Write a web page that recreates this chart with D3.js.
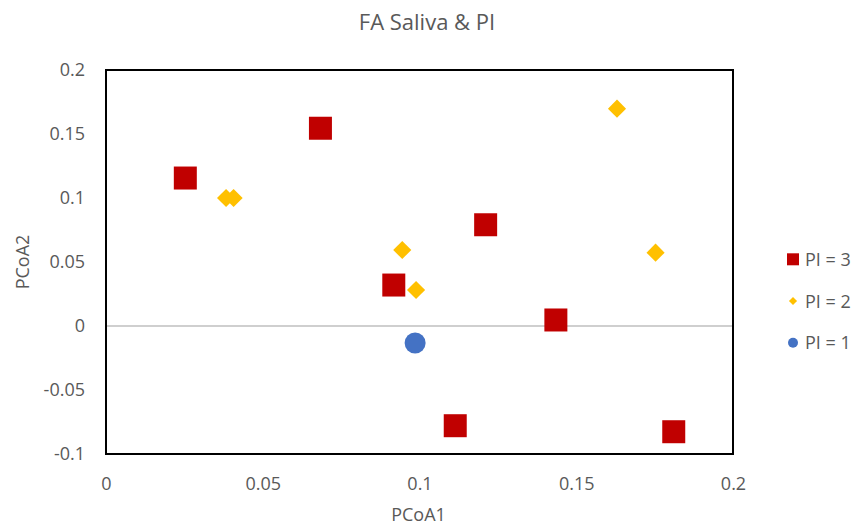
<!DOCTYPE html>
<html>
<head>
<meta charset="utf-8">
<script src="https://cdn.jsdelivr.net/npm/d3@7"></script>
<style>
  body { margin: 0; background: #fff; }
  text { font-family: "Open Sans", sans-serif; fill: #595959; }
</style>
</head>
<body>
<div id="container"></div>
<script>
// data
const pi3X = [0.0253, 0.0684, 0.1211, 0.0918, 0.1435, 0.1114, 0.1811];
const pi3Y = [0.1156, 0.1545, 0.0791, 0.032, 0.0047, -0.0779, -0.0826];
const pi2X = [0.163, 0.0383, 0.0407, 0.0945, 0.0989, 0.1753];
const pi2Y = [0.1698, 0.1, 0.1, 0.0594, 0.0281, 0.0573];
const pi1X = [0.0986];
const pi1Y = [-0.0133];
const xTicks = [0, 0.05, 0.1, 0.15, 0.2];
const yTicks = [-0.1, -0.05, 0, 0.05, 0.1, 0.15, 0.2];
const seriesNames = ["PI = 3", "PI = 2", "PI = 1"];

const W = 855, H = 525;
const margin = { top: 70, right: 122, bottom: 71, left: 106 };

const svg = d3.select("#container").append("svg")
  .attr("width", W).attr("height", H);

const x = d3.scaleLinear().domain([0, 0.2]).range([margin.left, W - margin.right]);
const y = d3.scaleLinear().domain([-0.1, 0.2]).range([H - margin.bottom, margin.top]);

// title
svg.append("text")
  .attr("x", 427).attr("y", 30)
  .attr("text-anchor", "middle")
  .style("font-size", "22px")
  .text("FA Saliva & PI");

// zero line
svg.append("line")
  .attr("x1", x(0)).attr("x2", x(0.2))
  .attr("y1", y(0)).attr("y2", y(0))
  .attr("stroke", "#bfbfbf").attr("stroke-width", 1.5);

// axes tick labels
const fmt = d => d === 0 ? "0" : String(+d.toFixed(2));
const xAxis = d3.axisBottom(x).tickValues(xTicks).tickFormat(fmt).tickSize(0).tickPadding(23);
const yAxis = d3.axisLeft(y).tickValues(yTicks).tickFormat(fmt).tickSize(0).tickPadding(21);

svg.append("g")
  .attr("transform", `translate(0,${y(-0.1)})`)
  .call(xAxis)
  .call(g => g.select(".domain").remove())
  .selectAll("text").style("font-size", "18px").attr("fill", "#595959").style("font-family", "Open Sans");

svg.append("g")
  .attr("transform", `translate(${x(0)},0)`)
  .call(yAxis)
  .call(g => g.select(".domain").remove())
  .selectAll("text").style("font-size", "18px").attr("fill", "#595959").style("font-family", "Open Sans");

// plot border
svg.append("rect")
  .attr("x", x(0)).attr("y", y(0.2))
  .attr("width", x(0.2) - x(0)).attr("height", y(-0.1) - y(0.2))
  .attr("fill", "none").attr("stroke", "#000").attr("stroke-width", 2);

// axis titles
svg.append("text")
  .attr("x", x(0.1) - 1).attr("y", 521)
  .attr("text-anchor", "middle")
  .style("font-size", "18px")
  .text("PCoA1");

svg.append("text")
  .attr("transform", `translate(29,262) rotate(-90)`)
  .attr("text-anchor", "middle")
  .style("font-size", "18px")
  .text("PCoA2");

// markers
const square = d3.symbol().type(d3.symbolSquare);
const diamond = d3.symbol().type(d3.symbolDiamond2);
const circle = d3.symbol().type(d3.symbolCircle);

svg.append("g").selectAll("path")
  .data(pi3X.map((v, i) => [v, pi3Y[i]]))
  .join("path")
  .attr("transform", d => `translate(${x(d[0])},${y(d[1])})`)
  .attr("d", square.size(23 * 23)())
  .attr("fill", "#c00000");

svg.append("g").selectAll("path")
  .data(pi2X.map((v, i) => [v, pi2Y[i]]))
  .join("path")
  .attr("transform", d => `translate(${x(d[0])},${y(d[1])})`)
  .attr("d", diamond.size(210)())
  .attr("fill", "#ffc000");

svg.append("g").selectAll("path")
  .data(pi1X.map((v, i) => [v, pi1Y[i]]))
  .join("path")
  .attr("transform", d => `translate(${x(d[0])},${y(d[1])})`)
  .attr("d", circle.size(Math.PI * 10.5 * 10.5)())
  .attr("fill", "#4472c4");

// legend
const legendMarks = [
  { d: square.size(144)(), color: "#c00000" },
  { d: diamond.size(42)(), color: "#ffc000" },
  { d: circle.size(Math.PI * 25)(), color: "#4472c4" }
];
const legend = svg.append("g");
seriesNames.forEach((name, i) => {
  const ly = 259.3 + i * 41.7;
  legend.append("path")
    .attr("transform", `translate(793,${ly})`)
    .attr("d", legendMarks[i].d)
    .attr("fill", legendMarks[i].color);
  legend.append("text")
    .attr("x", 805).attr("y", ly + 6.5)
    .style("font-size", "18px")
    .text(name);
});
</script>
</body>
</html>
